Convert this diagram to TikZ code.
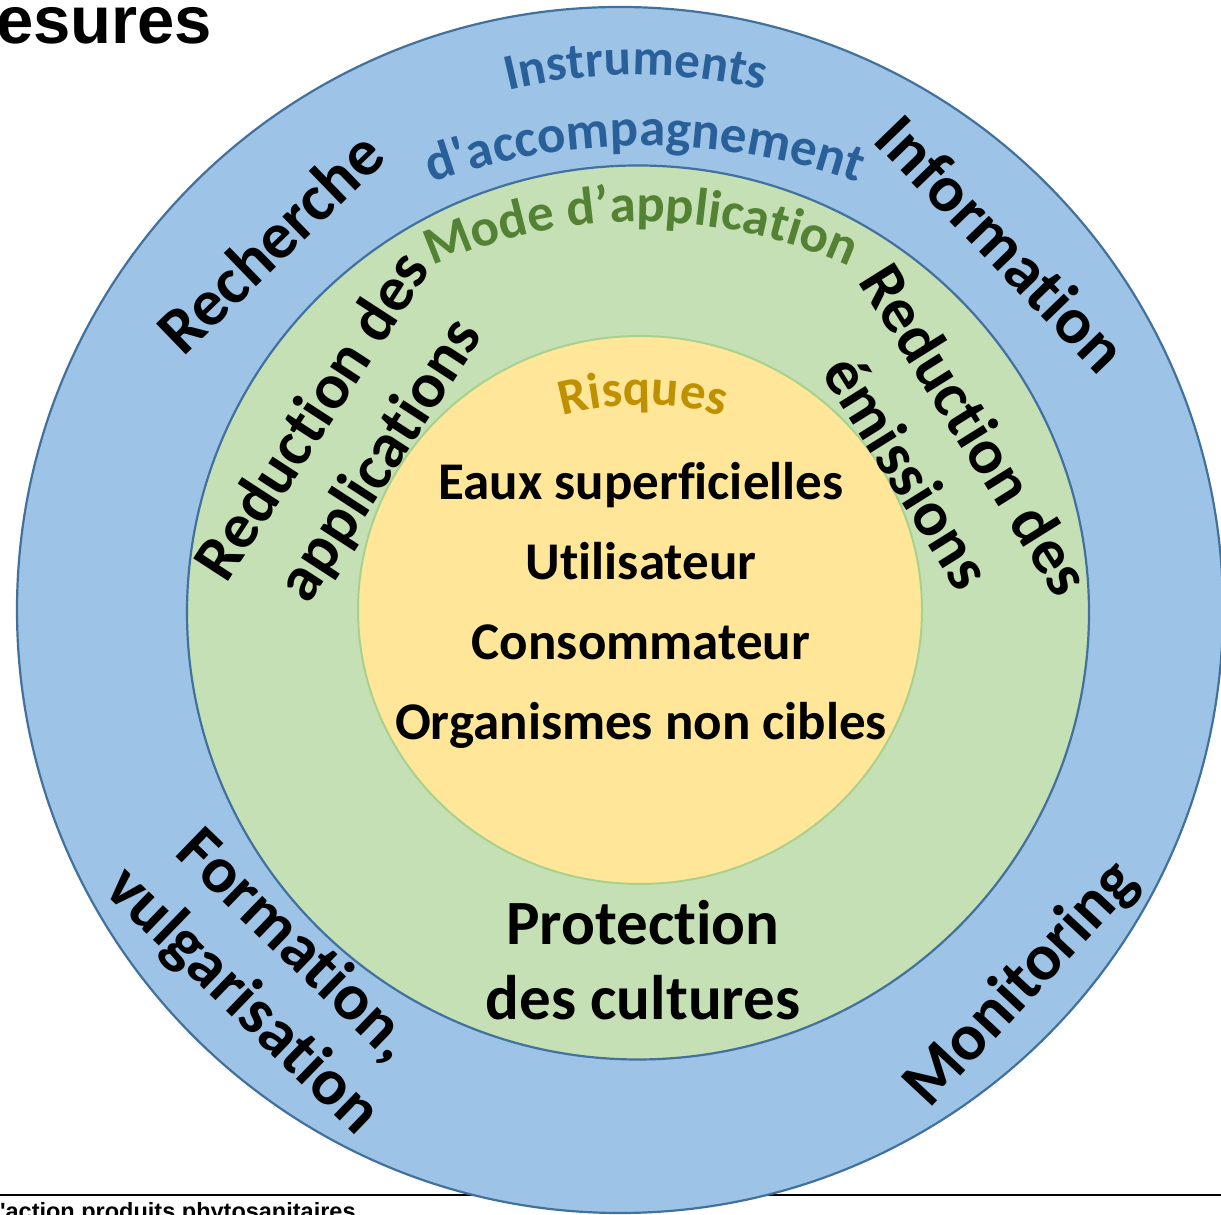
\documentclass[tikz,border=0pt]{standalone}
\usepackage{fontspec}
\setmainfont{Carlito}[Ligatures={TeXOff,NoCommon}]
\newfontfamily\arialfont{Liberation Sans}
\usetikzlibrary{decorations.text}
\definecolor{ringblue}{HTML}{9DC3E6}
\definecolor{ringgreen}{HTML}{C5E0B4}
\definecolor{coreyellow}{HTML}{FFE699}
\definecolor{edgeblue}{HTML}{41719C}
\definecolor{edgegreen}{HTML}{A9D18E}
\definecolor{instrblue}{HTML}{2A6099}
\definecolor{modegreen}{HTML}{548235}
\definecolor{risqgold}{HTML}{BF9000}
\tikzset{ring/.style={draw=edgeblue,line width=2.2pt},
    outerlabel/.style={font=\bfseries\fontsize{66}{76}\selectfont,align=center,inner sep=0pt},
    greenlabel/.style={font=\bfseries\fontsize{64}{80}\selectfont,align=center,inner sep=0pt},
    risk/.style={font=\bfseries\fontsize{53}{60}\selectfont,anchor=base,inner sep=0pt},
    crop/.style={font=\bfseries\fontsize{63}{70}\selectfont,anchor=base,inner sep=0pt}
}

\begin{document}
\begin{tikzpicture}[x=1pt,y=1pt]
    \useasboundingbox (0,0) rectangle (1221,1215);
    \clip (0,0) rectangle (1221,1215);

    % Title and footer
    \node[anchor=base west,inner sep=0pt,font=\arialfont\bfseries\fontsize{67}{80}\selectfont] (title) at (-4,1171) {esures};
    \draw[line width=2pt] (0,20) -- (1221,20);
    \node[anchor=base west,inner sep=0pt,font=\arialfont\bfseries\fontsize{23.5}{28}\selectfont] (footer) at (-14.5,-5) {d'action produits phytosanitaires};

    % Rings
    \filldraw[ring,fill=ringblue] (620,605) circle (603);
    \filldraw[ring,fill=ringgreen] (638,602.5) ellipse (451 and 447);
    \filldraw[draw=edgegreen,line width=2pt,fill=coreyellow] (640,605) ellipse (282 and 274);

    % Curved titles
    \path[decorate,decoration={text along path,text align=center,text color=instrblue,
        text={|\bfseries\fontsize{51}{60}\selectfont|Instruments}}]
        (636,601) ++(110:539) arc (110:70:539);
    \path[decorate,decoration={text along path,text align=center,text color=instrblue,
        text={|\bfseries\fontsize{53}{60}\selectfont|d'accompagnement}}]
        (645,430) ++(115:639) arc (115:65:639);
    \path[decorate,decoration={text along path,text align=center,text color=modegreen,
        text={|\bfseries\fontsize{53}{60}\selectfont|Mode d’application}}]
        (641,481) ++(120:512) arc (120:60:512);
    \path[decorate,decoration={text along path,text align=center,text color=risqgold,
        text={|\bfseries\fontsize{51}{60}\selectfont|Risques}}]
        (643,512) ++(125:298) arc (125:55:298);

    % Outer ring labels
    \node[outerlabel,rotate=44] (recherche) at (270,973) {Recherche};
    \node[outerlabel,rotate=-46] (information) at (1002,972) {Information};
    \node[outerlabel,rotate=47] (monitoring) at (1022,230) {Monitoring};
    \node[outerlabel,rotate=-44] (formation) at (268,241) {Formation,\\vulgarisation};

    % Green ring labels
    \node[greenlabel,rotate=57] (redappl) at (348,776) {Reduction des\\applications};
    \node[greenlabel,rotate=-58] (redemis) at (942,765) {Reduction des\\émissions};
    \node[crop] (protection) at (643,270) {Protection};
    \node[crop] (cultures) at (643,195) {des cultures};

    % Core
    \node[risk] (eaux) at (641,715) {Eaux superficielles};
    \node[risk] (utilisateur) at (641,635) {Utilisateur};
    \node[risk] (consommateur) at (641,555) {Consommateur};
    \node[risk] (organismes) at (641,475) {Organismes non cibles};
\end{tikzpicture}
\end{document}
